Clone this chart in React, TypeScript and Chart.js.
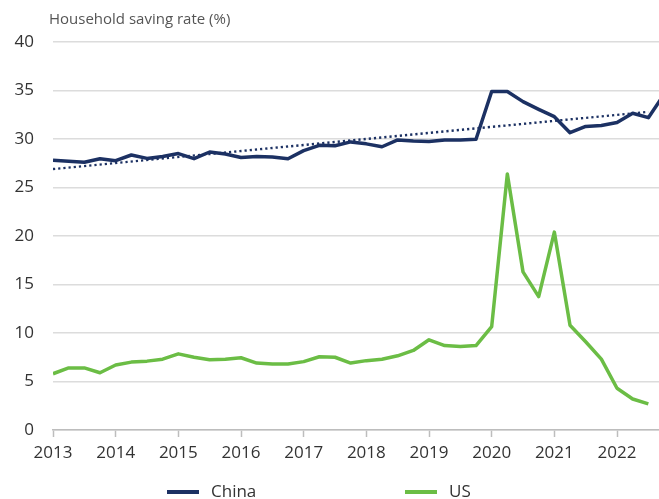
import React, { useEffect, useRef } from "react";
import { Chart, registerables } from "chart.js";

Chart.register(...registerables);

// Quarterly data, 2013 Q1 onwards
const yearLabels = [2013, 2014, 2015, 2016, 2017, 2018, 2019, 2020, 2021, 2022];
const chinaSaving = [
  27.8, 27.7, 27.6, 27.97, 27.76, 28.35, 28.0, 28.2, 28.5, 27.97,
  28.66, 28.45, 28.1, 28.2, 28.15, 27.97, 28.8, 29.35, 29.3, 29.7,
  29.5, 29.2, 29.9, 29.8, 29.75, 29.9, 29.9, 29.97, 34.9, 34.9,
  33.85, 33.06, 32.3, 30.65, 31.3, 31.4, 31.7, 32.65, 32.2, 34.6,
];
const usSaving = [
  5.8, 6.4, 6.4, 5.9, 6.7, 7.0, 7.1, 7.3, 7.85, 7.5,
  7.25, 7.3, 7.45, 6.9, 6.8, 6.8, 7.05, 7.55, 7.5, 6.9,
  7.15, 7.3, 7.65, 8.2, 9.3, 8.7, 8.6, 8.7, 10.65, 26.4,
  16.3, 13.75, 20.4, 10.8, 9.1, 7.3, 4.3, 3.2, 2.7,
];
// Linear trend line for China (start / end values)
const chinaTrendEnds = [26.9, 32.8];
const yTicks = [0, 5, 10, 15, 20, 25, 30, 35, 40];

const CHINA = "#1c3163";
const US = "#6bbd45";
const FONT = "'Open Sans', 'Noto Sans', sans-serif";

export default function App() {
  const ref = useRef<HTMLCanvasElement | null>(null);

  useEffect(() => {
    const canvas = ref.current;
    if (!canvas) return;

    const overlay = {
      id: "overlay",
      afterDraw(chart: any) {
        const ctx = chart.ctx;
        ctx.save();
        // title
        ctx.fillStyle = "#555555";
        ctx.font = `15px ${FONT}`;
        ctx.textAlign = "left";
        ctx.textBaseline = "middle";
        ctx.fillText("Household saving rate (%)", 49, 20);
        // legend
        const items = [
          { label: "China", color: CHINA, x: 167 },
          { label: "US", color: US, x: 405 },
        ];
        const ly = 492;
        for (const it of items) {
          ctx.strokeStyle = it.color;
          ctx.lineWidth = 4;
          ctx.lineCap = "butt";
          ctx.beginPath();
          ctx.moveTo(it.x, ly);
          ctx.lineTo(it.x + 32, ly);
          ctx.stroke();
          ctx.fillStyle = "#333333";
          ctx.font = `17px ${FONT}`;
          ctx.textBaseline = "middle";
          ctx.fillText(it.label, it.x + 44, ly);
        }
        ctx.restore();
      },
    };

    const chart = new Chart(canvas, {
      type: "line",
      data: {
        datasets: [
          {
            label: "China",
            data: chinaSaving.map((v, i) => ({ x: i, y: v })),
            borderColor: CHINA,
            backgroundColor: CHINA,
            borderWidth: 3.5,
            pointRadius: 0,
            tension: 0,
            borderJoinStyle: "round",
          },
          {
            label: "US",
            data: usSaving.map((v, i) => ({ x: i, y: v })),
            borderColor: US,
            backgroundColor: US,
            borderWidth: 3.5,
            pointRadius: 0,
            tension: 0,
            borderJoinStyle: "round",
          },
          {
            label: "China trend",
            data: [
              { x: 0, y: chinaTrendEnds[0] },
              { x: chinaSaving.length - 2, y: chinaTrendEnds[1] },
            ],
            borderColor: CHINA,
            borderWidth: 2.4,
            borderDash: [2.2, 3],
            pointRadius: 0,
            tension: 0,
          },
        ],
      },
      options: {
        responsive: false,
        animation: false,
        devicePixelRatio: 1,
        layout: { padding: { top: 42, bottom: 29, left: 0, right: 0 } },
        plugins: {
          legend: { display: false },
          title: { display: false },
          tooltip: { enabled: false },
        },
        scales: {
          x: {
            type: "linear",
            min: 0,
            max: 38.68,
            afterFit: (s: any) => {
              s.height = 40;
            },
            afterBuildTicks: (s: any) => {
              s.ticks = yearLabels.map((_, i) => ({ value: i * 4 }));
            },
            ticks: {
              includeBounds: false,
              autoSkip: false,
              maxRotation: 0,
              padding: 6,
              color: "#333333",
              font: { family: FONT, size: 17 },
              callback: (v: any) => {
                const idx = Math.round(Number(v) / 4);
                return yearLabels[idx] !== undefined ? String(yearLabels[idx]) : "";
              },
            },
            grid: {
              drawOnChartArea: false,
              drawTicks: true,
              tickLength: 7,
              tickWidth: 1.5,
              tickColor: "#bdbdbd",
            },
            border: { display: true, color: "#bdbdbd", width: 1.5 },
          },
          y: {
            min: 0,
            max: 40,
            afterFit: (s: any) => {
              s.width = 53;
            },
            afterBuildTicks: (s: any) => {
              s.ticks = yTicks.map((v) => ({ value: v }));
            },
            ticks: {
              padding: 19,
              color: "#333333",
              font: { family: FONT, size: 17 },
            },
            grid: {
              drawTicks: false,
              color: "#dcdcdc",
              lineWidth: 1.5,
            },
            border: { display: false },
          },
        },
      },
      plugins: [overlay],
    } as any);

    return () => chart.destroy();
  }, []);

  return (
    <div style={{ position: "fixed", left: 0, top: 0, width: 659, height: 499, background: "#fff" }}>
      <canvas ref={ref} width={659} height={499} style={{ display: "block" }} />
    </div>
  );
}
